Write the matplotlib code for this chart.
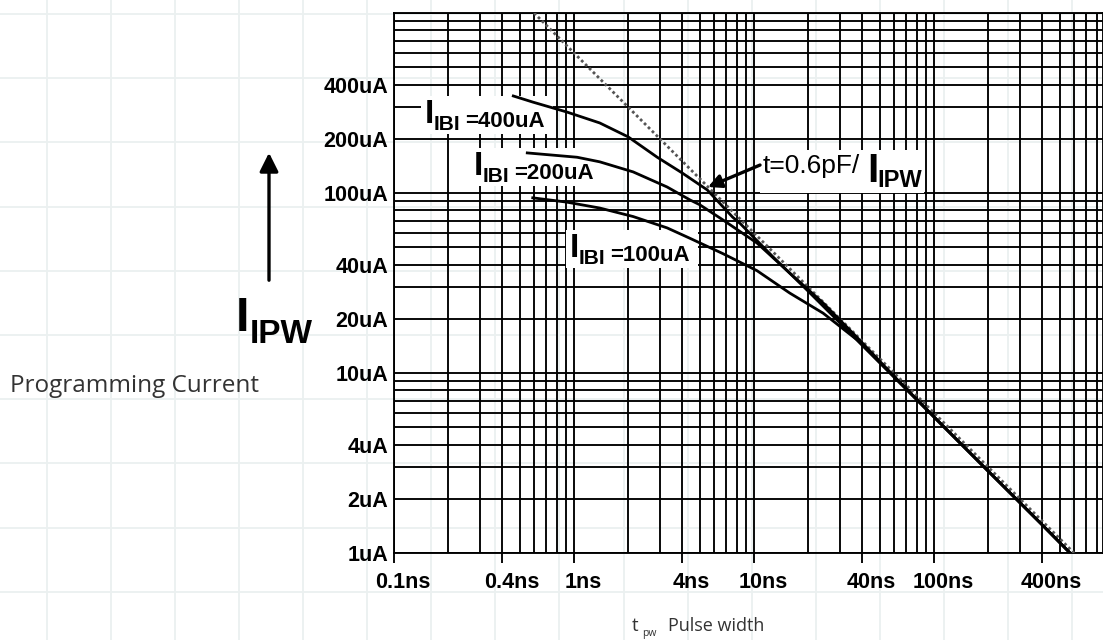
import matplotlib
matplotlib.use("Agg")
import matplotlib.pyplot as plt
from matplotlib.patches import Rectangle
from matplotlib.ticker import FixedLocator, LogLocator, NullFormatter
from matplotlib.transforms import Affine2D, ScaledTranslation
import numpy as np

# pulse width (ns) vs programming current (uA)
t_400 = [0.46, 0.59, 0.91, 1.39, 2.0, 2.9, 4.0, 5.5, 7.6, 8.4, 12.8, 19.7, 30, 50, 100, 200, 400, 570]
i_400 = [346, 320, 282, 245, 205, 158, 129, 104, 73.5, 67.5, 44, 28.9, 19, 11.4, 5.7, 2.85, 1.43, 1.0]

t_200 = [0.55, 1.04, 1.39, 2.13, 3.29, 4.41, 5.0, 6.73, 10.4, 15.8, 24.2, 37.3, 60, 100, 200, 400, 570]
i_200 = [167, 158, 149, 131, 108, 91.5, 86, 70.8, 52.7, 35.9, 24.5, 15.8, 9.6, 5.7, 2.85, 1.43, 1.0]

t_100 = [0.59, 0.91, 1.39, 2.13, 3.29, 4.41, 6.73, 10.4, 15.8, 24.2, 37.3, 60, 100, 200, 400, 570]
i_100 = [94, 89, 82.5, 74, 64, 56, 46, 37, 27.8, 21.5, 15.3, 9.5, 5.7, 2.85, 1.43, 1.0]

# t = 0.6pF / I  limit line
limit_t = [0.6, 600]
limit_i = [1000, 1]

x_ticks = [0.1, 0.4, 1, 4, 10, 40, 100, 400]
x_labels = ["0.1ns", "0.4ns", "1ns", "4ns", "10ns", "40ns", "100ns", "400ns"]
y_ticks = [1, 2, 4, 10, 20, 40, 100, 200, 400]
y_labels = ["1uA", "2uA", "4uA", "10uA", "20uA", "40uA", "100uA", "200uA", "400uA"]

FONT = "Liberation Sans"
PAGE = "Open Sans"


def put(ax, x, y, pieces, box):
    # a label built from pieces (text, dx, dy, size, weight) in pixels from one anchor,
    # over one white patch (x0, y0, w, h) that hides the grid but not the curves
    px, py = ax.transData.transform((x, y))
    ax.add_patch(Rectangle(box[:2], box[2], box[3], fc="white", ec="none",
                           transform=Affine2D().translate(px, py), clip_on=False, zorder=3))
    for txt, dx, dy, size, weight in pieces:
        ax.annotate(txt, xy=(x, y), xytext=(dx, dy), textcoords="offset pixels",
                    fontsize=size, fontweight=weight, family=FONT, ha="left", va="baseline",
                    color="black", zorder=7, annotation_clip=False)


def curve_label(ax, x, y, value):
    put(ax, x, y, [("I", 0, 0, 24, "bold"),
                   ("IBI", 9, -7, 15, "bold"),
                   ("=" + value, 40, -4, 16, "bold")],
        (-4, -11, 132, 38))


fig = plt.figure(figsize=(11.03, 6.4), dpi=100)

# page background with its faint grid, in pixel units
bg = fig.add_axes([0, 0, 1, 1], zorder=0)
bg.set_xlim(0, 1103)
bg.set_ylim(640, 0)
bg.axis("off")
for gx in np.arange(47, 1103, 64.06):
    bg.axvline(gx, color="#ebf0f0", lw=1.3)
for gy in np.arange(14, 640, 64.2):
    bg.axhline(gy, color="#ebf0f0", lw=1.3)

bg.annotate("", xy=(269, 150), xytext=(269, 283),
            arrowprops=dict(arrowstyle="-|>", lw=2.4, color="black", mutation_scale=28))
bg.text(236, 331, "I", fontsize=35, fontweight="bold", family=FONT, va="baseline")
bg.text(250, 343, "IPW", fontsize=24, fontweight="bold", family=FONT, va="baseline")
bg.text(10, 392, "Programming Current", fontsize=17.5, family=PAGE, color="#333333", va="baseline")
bg.text(632, 631, "t", fontsize=13.5, family=PAGE, color="#333333", va="baseline")
bg.text(642, 636, "pw", fontsize=7.5, family=PAGE, color="#333333", va="baseline")
bg.text(668, 631, "Pulse width", fontsize=13, family=PAGE, color="#333333", va="baseline")

# the chart itself
ax = fig.add_axes([394 / 1103, 87 / 640, 709 / 1103, 540 / 640], zorder=1)
ax.patch.set_alpha(0)
ax.set_xscale("log")
ax.set_yscale("log")
ax.set_xlim(0.1, 868.6)
ax.set_ylim(1, 1000)

ax.xaxis.set_major_locator(FixedLocator(x_ticks))
ax.set_xticklabels(x_labels)
ax.yaxis.set_major_locator(FixedLocator(y_ticks))
ax.set_yticklabels(y_labels)
for a in (ax.xaxis, ax.yaxis):
    a.set_minor_locator(LogLocator(base=10, subs=np.arange(1, 10), numticks=30))
    a.set_minor_formatter(NullFormatter())

ax.grid(which="both", color="black", lw=1.35)
ax.tick_params(axis="x", which="major", length=7, width=1.35, direction="out", pad=7)
ax.tick_params(axis="y", which="major", length=0, pad=4)
ax.tick_params(which="minor", length=0)
for lab in ax.get_xticklabels() + ax.get_yticklabels():
    lab.set_family(FONT)
    lab.set_fontweight("bold")
    lab.set_fontsize(15.5)
for lab in ax.get_xticklabels():
    lab.set_transform(lab.get_transform() + ScaledTranslation(0.09, 0, fig.dpi_scale_trans))
for s in ax.spines.values():
    s.set_linewidth(1.35)

ax.plot(limit_t, limit_i, color="#555555", lw=2.0, ls=(0, (1, 1)), zorder=4)
ax.plot(t_400, i_400, color="black", lw=2.0, zorder=5)
ax.plot(t_200, i_200, color="black", lw=2.0, zorder=5)
ax.plot(t_100, i_100, color="black", lw=2.0, zorder=5)

curve_label(ax, 0.1487, 245, "400uA")
curve_label(ax, 0.278, 126, "200uA")
curve_label(ax, 0.95, 44.1, "100uA")

put(ax, 11.2, 129, [("t=0.6pF/", 0, 0, 19, "normal"),
                    ("I", 104, -9, 29, "bold"),
                    ("IPW", 115, -14, 17, "bold")],
    (-3, -20, 164, 43))
ax.annotate("", xy=(5.55, 108), xytext=(10.8, 143),
            arrowprops=dict(arrowstyle="-|>", lw=2.4, color="black", mutation_scale=20,
                            shrinkA=0, shrinkB=0), zorder=8)

fig.savefig("out.png", dpi=100)
